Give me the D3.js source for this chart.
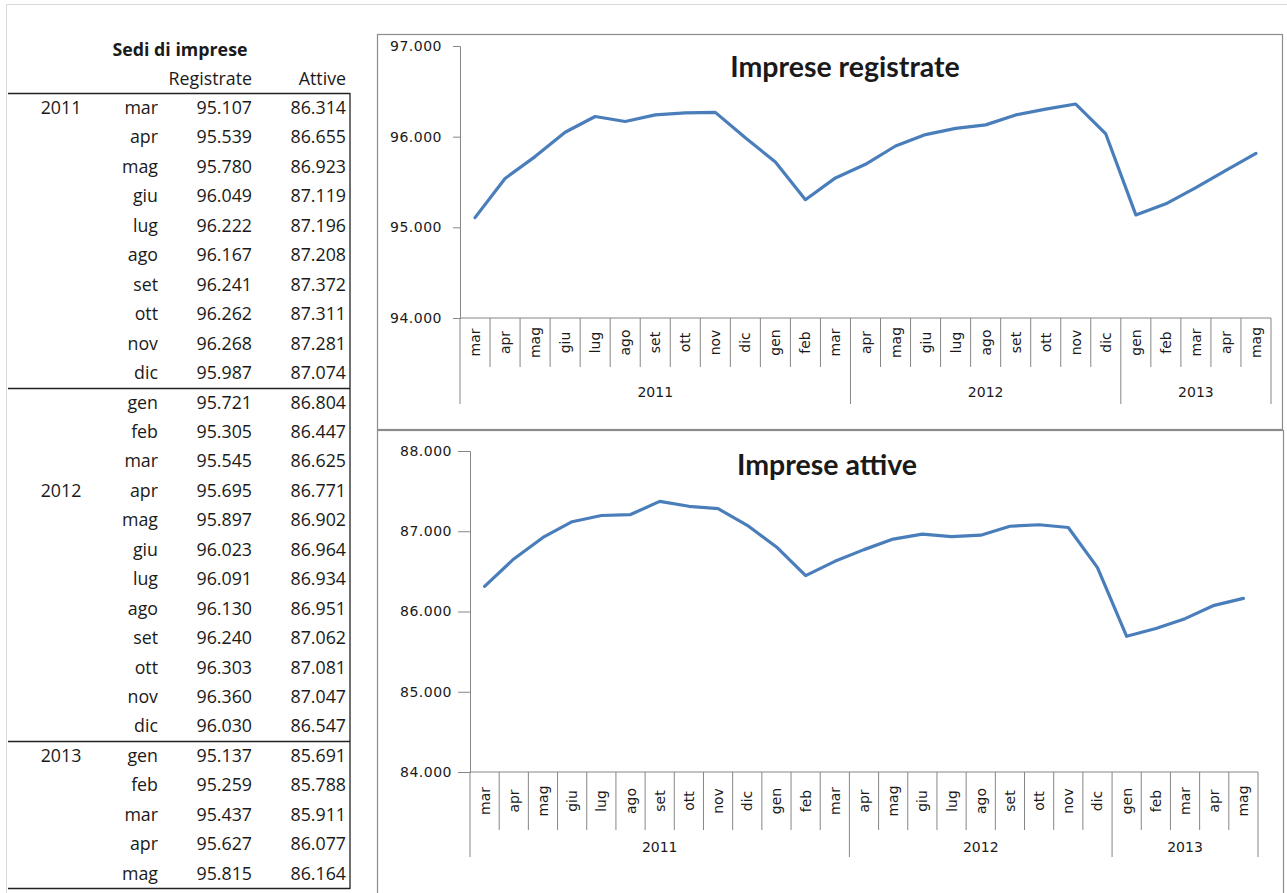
<!DOCTYPE html>
<html>
<head>
<meta charset="utf-8">
<script src="https://cdn.jsdelivr.net/npm/d3@7"></script>
<style>
  body { margin: 0; background: #fff; }
  svg text { font-family: "Open Sans", Lato, sans-serif; fill: #1a1a1a; }
</style>
</head>
<body>
<svg id="chart" width="1287" height="893"></svg>
<script>
// month labels, same order in table and charts
const months = ["mar","apr","mag","giu","lug","ago","set","ott","nov","dic",
  "gen","feb","mar","apr","mag","giu","lug","ago","set","ott","nov","dic",
  "gen","feb","mar","apr","mag"];
const registrate = [95107, 95539, 95780, 96049, 96222, 96167, 96241, 96262, 96268, 95987,
  95721, 95305, 95545, 95695, 95897, 96023, 96091, 96130, 96240, 96303, 96360, 96030,
  95137, 95259, 95437, 95627, 95815];
const attive = [86314, 86655, 86923, 87119, 87196, 87208, 87372, 87311, 87281, 87074,
  86804, 86447, 86625, 86771, 86902, 86964, 86934, 86951, 87062, 87081, 87047, 86547,
  85691, 85788, 85911, 86077, 86164];
// year labels in the table (row index where they appear)
const tableYears = [{year: "2011", row: 0}, {year: "2012", row: 13}, {year: "2013", row: 22}];
const tableBreaks = [10, 22];
// year groups as the charts show them
const chartYears = [{year: "2011", n: 13}, {year: "2012", n: 9}, {year: "2013", n: 5}];
const regTicks = [94000, 95000, 96000, 97000];
const attTicks = [84000, 85000, 86000, 87000, 88000];

const it = d3.formatLocale({decimal: ",", thousands: ".", grouping: [3], currency: ["€", ""]});
const fmt = it.format(",d");

const svg = d3.select("#chart");

// outer faint frame
svg.append("path").attr("d", "M6.5,893 V4.5 H1287")
  .attr("fill", "none").attr("stroke", "#d9d9d9");

// ---------- table ----------
const ids = d3.range(months.length);
const rowY = d3.scaleLinear().domain([0, months.length - 1]).range([108, 108 + 26 * 29.45]);
const tbl = svg.append("g").style("font-size", "17.8px");

tbl.append("text").attr("x", 180).attr("y", 56).attr("text-anchor", "middle")
  .style("font-weight", "bold").text("Sedi di imprese");
tbl.append("text").attr("x", 252).attr("y", 85).attr("text-anchor", "end").text("Registrate");
tbl.append("text").attr("x", 346).attr("y", 85).attr("text-anchor", "end").text("Attive");

const rows = tbl.selectAll("g.row").data(ids).enter().append("g")
  .attr("transform", i => `translate(0,${rowY(i) + 6})`);
rows.append("text").attr("x", 158).attr("text-anchor", "end").text(i => months[i]);
rows.append("text").attr("x", 252).attr("text-anchor", "end").text(i => fmt(registrate[i]));
rows.append("text").attr("x", 346).attr("text-anchor", "end").text(i => fmt(attive[i]));

tbl.selectAll("text.yr").data(tableYears).enter().append("text")
  .attr("x", 61).attr("y", d => rowY(d.row) + 6).attr("text-anchor", "middle").text(d => d.year);

const lineY = [rowY(0) - 14.7].concat(tableBreaks.map(b => rowY(b) - 14.7), [rowY(months.length - 1) + 14.7]);
tbl.selectAll("line.h").data(lineY).enter().append("line")
  .attr("x1", 8).attr("x2", 350).attr("y1", d => Math.round(d) + 0.5).attr("y2", d => Math.round(d) + 0.5)
  .attr("stroke", "#222").attr("stroke-width", 1.3);
tbl.append("line").attr("x1", 350).attr("x2", 350)
  .attr("y1", Math.round(lineY[0])).attr("y2", Math.round(lineY[lineY.length - 1]) + 1)
  .attr("stroke", "#222").attr("stroke-width", 1.3);

// ---------- charts ----------
function drawChart(cfg) {
  const g = svg.append("g");
  g.append("rect").attr("x", cfg.frame[0] + 0.5).attr("y", cfg.frame[1] + 0.5)
    .attr("width", cfg.frame[2]).attr("height", cfg.frame[3])
    .attr("fill", "#fff").attr("stroke", "#8c8c8c").attr("stroke-width", 1.2);

  const x = d3.scaleBand().domain(ids).range([cfg.x0, cfg.x1]);
  const y = d3.scaleLinear().domain(cfg.domain).range([cfg.yBottom, cfg.yTop]);

  // y axis
  const ya = g.append("g").attr("transform", `translate(${cfg.x0},0)`)
    .call(d3.axisLeft(y).tickValues(cfg.ticks).tickFormat(fmt).tickSize(cfg.tick).tickPadding(cfg.pad));
  ya.selectAll("path, line").attr("stroke", "#868686");
  ya.selectAll("text").style("font-family", "'DejaVu Sans', sans-serif").style("font-size", "14px")
    .style("letter-spacing", "0.5px").attr("fill", "#333");

  // x axis line
  g.append("line").attr("x1", cfg.x0).attr("x2", cfg.x1).attr("y1", cfg.yBottom).attr("y2", cfg.yBottom)
    .attr("stroke", "#868686");

  // month dividers
  const divs = d3.range(months.length + 1).map(i => i < months.length ? x(i) : cfg.x1);
  g.selectAll("line.md").data(divs).enter().append("line")
    .attr("x1", d => d).attr("x2", d => d)
    .attr("y1", cfg.yBottom).attr("y2", cfg.yBottom + cfg.monthH)
    .attr("stroke", "#868686");

  // month labels, rotated
  g.selectAll("text.ml").data(ids).enter().append("text")
    .attr("transform", i => `translate(${x(i) + x.bandwidth() / 2 + 5},${cfg.yBottom + cfg.monthH / 2}) rotate(-90)`)
    .attr("text-anchor", "middle")
    .style("font-family", "'DejaVu Sans', sans-serif").style("font-size", "14px").attr("fill", "#333")
    .text(i => months[i]);

  // year groups
  let start = 0;
  const groups = chartYears.map(d => { const r = {year: d.year, a: start, b: start + d.n}; start += d.n; return r; });
  const edge = i => i < months.length ? x(i) : cfg.x1;
  const yearDivs = [0].concat(groups.map(d => d.b));
  g.selectAll("line.yd").data(yearDivs).enter().append("line")
    .attr("x1", edge).attr("x2", edge)
    .attr("y1", cfg.yBottom + cfg.monthH).attr("y2", cfg.yBottom + cfg.yearH)
    .attr("stroke", "#868686");
  g.selectAll("text.yl").data(groups).enter().append("text")
    .attr("x", d => (edge(d.a) + edge(d.b)) / 2)
    .attr("y", cfg.yBottom + cfg.yearLab)
    .attr("text-anchor", "middle")
    .style("font-family", "'DejaVu Sans', sans-serif").style("font-size", "14px").attr("fill", "#333")
    .text(d => d.year);

  // series line
  const line = d3.line().x(i => x(i) + x.bandwidth() / 2).y(i => y(cfg.values[i]));
  g.append("path").datum(ids).attr("d", line)
    .attr("fill", "none").attr("stroke", "#4a7ebb").attr("stroke-width", 3.2)
    .attr("stroke-linejoin", "round").attr("stroke-linecap", "round");

  // title
  g.append("text").attr("x", cfg.titleX).attr("y", cfg.titleY).attr("text-anchor", "middle")
    .style("font-family", "Lato, sans-serif")
    .style("font-size", "28.5px").style("font-weight", "bold").attr("fill", "#111")
    .text(cfg.title);
}

drawChart({
  frame: [377, 34, 905, 395],
  x0: 460, x1: 1271, yTop: 46, yBottom: 318,
  domain: [94000, 97000], ticks: regTicks, tick: 7, pad: 11,
  monthH: 49, yearH: 86, yearLab: 79,
  values: registrate,
  title: "Imprese registrate", titleX: 845, titleY: 77
});

drawChart({
  frame: [377, 430, 906, 470],
  x0: 470, x1: 1258, yTop: 451, yBottom: 772,
  domain: [84000, 88000], ticks: attTicks, tick: 12, pad: 6,
  monthH: 58, yearH: 85, yearLab: 80,
  values: attive,
  title: "Imprese attive", titleX: 827, titleY: 475
});
</script>
</body>
</html>
